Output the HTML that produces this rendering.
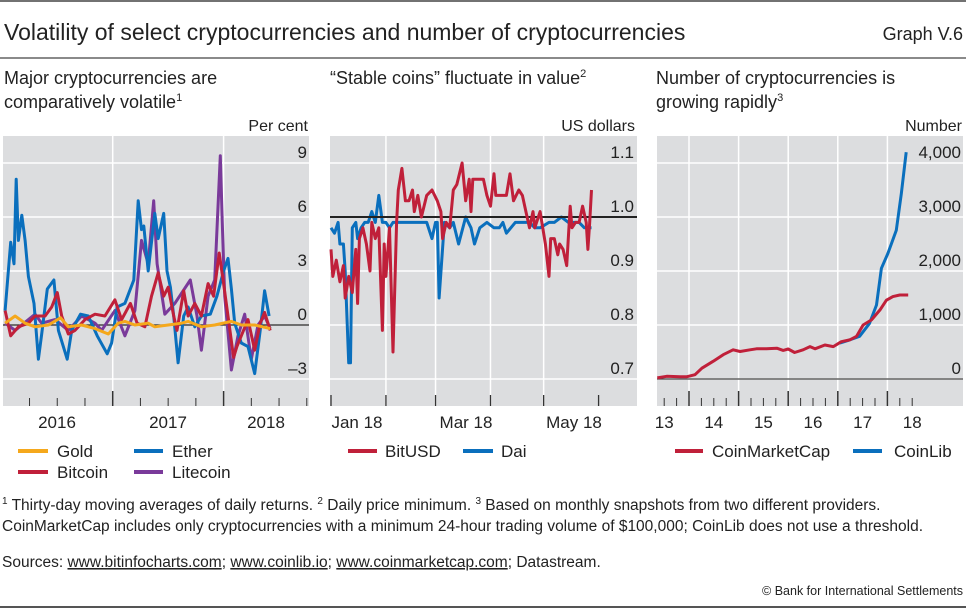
<!DOCTYPE html>
<html><head><meta charset="utf-8"><style>
html,body{margin:0;padding:0;background:#fff;}
svg{display:block;font-family:"Liberation Sans Narrow","Liberation Sans",sans-serif;}
text{fill:#222;}
</style></head><body>
<svg id="chart" width="966" height="609" viewBox="0 0 966 609" xmlns="http://www.w3.org/2000/svg">
<line x1="0" y1="1" x2="966" y2="1" stroke="#444" stroke-width="1.5"/>
<text x="4" y="40" font-size="23">Volatility of select cryptocurrencies and number of cryptocurrencies</text>
<text x="963" y="40" font-size="18" text-anchor="end">Graph V.6</text>
<line x1="0" y1="58" x2="966" y2="58" stroke="#444" stroke-width="1.2"/>
<g font-size="18">
<text x="4" y="84">Major cryptocurrencies are</text>
<text x="4" y="108">comparatively volatile<tspan font-size="11" dy="-7">1</tspan></text>
<text x="330" y="84">“Stable coins” fluctuate in value<tspan font-size="11" dy="-7">2</tspan></text>
<text x="656" y="84">Number of cryptocurrencies is</text>
<text x="656" y="108">growing rapidly<tspan font-size="11" dy="-7">3</tspan></text>
</g>
<g font-size="16" fill="#444">
<text x="308" y="131" text-anchor="end">Per cent</text>
<text x="635" y="131" text-anchor="end">US dollars</text>
<text x="962" y="131" text-anchor="end">Number</text>
</g>
<g id="p1"></g>
<g id="p2"></g>
<g id="p3"></g>
<g font-size="17">
<line x1="18" y1="451" x2="48" y2="451" stroke="#f5a81c" stroke-width="4"/>
<text x="57" y="457">Gold</text>
<line x1="134" y1="451" x2="163" y2="451" stroke="#0a6fbd" stroke-width="4"/>
<text x="172" y="457">Ether</text>
<line x1="18" y1="472" x2="48" y2="472" stroke="#c0203a" stroke-width="4"/>
<text x="57" y="478">Bitcoin</text>
<line x1="134" y1="472" x2="163" y2="472" stroke="#7a3a9a" stroke-width="4"/>
<text x="172" y="478">Litecoin</text>
<line x1="348" y1="451" x2="377" y2="451" stroke="#c0203a" stroke-width="4"/>
<text x="385" y="457">BitUSD</text>
<line x1="463" y1="451" x2="493" y2="451" stroke="#0a6fbd" stroke-width="4"/>
<text x="501" y="457">Dai</text>
<line x1="675" y1="451" x2="703" y2="451" stroke="#c0203a" stroke-width="4"/>
<text x="712" y="457">CoinMarketCap</text>
<line x1="853" y1="451" x2="882" y2="451" stroke="#0a6fbd" stroke-width="4"/>
<text x="894" y="457">CoinLib</text>
</g>
<g font-size="15.5">
<text x="2" y="510"><tspan font-size="10" dy="-6">1</tspan><tspan dy="6"> Thirty-day moving averages of daily returns.  </tspan><tspan font-size="10" dy="-6">2</tspan><tspan dy="6"> Daily price minimum.  </tspan><tspan font-size="10" dy="-6">3</tspan><tspan dy="6"> Based on monthly snapshots from two different providers.</tspan></text>
<text x="2" y="531">CoinMarketCap includes only cryptocurrencies with a minimum 24-hour trading volume of $100,000; CoinLib does not use a threshold.</text>
<text x="2" y="567">Sources: <tspan text-decoration="underline">www.bitinfocharts.com</tspan>; <tspan text-decoration="underline">www.coinlib.io</tspan>; <tspan text-decoration="underline">www.coinmarketcap.com</tspan>; Datastream.</text>
<text x="963" y="595" font-size="12.5" text-anchor="end">© Bank for International Settlements</text>
</g>
<line x1="0" y1="607" x2="966" y2="607" stroke="#555" stroke-width="2"/>
</svg>
<script>
// ---- Panel 1 data (per cent) ----
const etherX=[2016.03,2016.08,2016.11,2016.13,2016.15,2016.18,2016.21,2016.24,2016.29,2016.33,2016.36,2016.41,2016.47,2016.51,2016.59,2016.63,2016.71,2016.78,2016.86,2016.95,2016.99,2017.04,2017.11,2017.19,2017.23,2017.26,2017.28,2017.32,2017.38,2017.41,2017.46,2017.49,2017.52,2017.55,2017.59,2017.64,2017.68,2017.74,2017.80,2017.88,2017.94,2018.00,2018.04,2018.07,2018.10,2018.16,2018.22,2018.28,2018.33,2018.37,2018.41];
const etherY=[0.8,4.6,3.4,8.1,4.7,6.1,4.7,2.7,1.2,-1.9,-0.5,2.0,2.5,-0.3,-1.9,-0.3,0.6,0.5,-0.6,-1.6,-1.0,1.0,1.2,2.5,6.9,5.3,5.5,3.0,6.2,4.8,6.2,3.0,2.1,0.5,-2.1,0.5,1.0,-0.1,0.5,0.6,1.6,3.0,3.7,2.0,0.1,-1.0,-1.2,-2.7,-0.3,1.9,0.5];
const bitcoinX=[2016.03,2016.08,2016.15,2016.24,2016.30,2016.39,2016.45,2016.50,2016.54,2016.60,2016.66,2016.75,2016.84,2016.93,2017.02,2017.08,2017.16,2017.22,2017.29,2017.35,2017.41,2017.46,2017.50,2017.55,2017.58,2017.64,2017.68,2017.74,2017.80,2017.86,2017.91,2017.96,2018.00,2018.04,2018.09,2018.12,2018.16,2018.22,2018.28,2018.33,2018.37,2018.42];
const bitcoinY=[0.8,-0.6,-0.1,0.1,0.5,0.5,1.0,1.8,0.5,-0.5,-0.3,0.3,0.6,0.5,1.4,0.3,1.2,0.1,-0.1,1.6,2.9,1.6,2.1,0.5,-0.3,1.9,0.5,1.2,0.5,2.3,1.6,4.0,2.3,0.5,-1.8,-1.2,-0.6,0.3,-1.4,0.1,0.7,-0.3];
const litecoinX=[2016.03,2016.12,2016.30,2016.36,2016.48,2016.60,2016.72,2016.84,2016.90,2017.02,2017.11,2017.20,2017.26,2017.32,2017.37,2017.40,2017.47,2017.56,2017.70,2017.76,2017.80,2017.86,2017.92,2017.97,2017.99,2018.01,2018.07,2018.13,2018.19,2018.25,2018.31,2018.37,2018.42];
const litecoinY=[0.1,-0.3,0.6,0.1,0.3,-0.3,0.5,0.1,-0.3,0.8,-0.6,0.8,4.7,3.4,6.9,3.4,0.6,1.2,2.5,0.5,-1.4,1.6,2.5,9.4,5.3,1.6,-2.5,-0.6,0.6,-1.9,0,0.5,-0.2];
const goldX=[2016.03,2016.12,2016.21,2016.30,2016.42,2016.53,2016.60,2016.72,2016.84,2016.96,2017.05,2017.11,2017.20,2017.32,2017.38,2017.50,2017.62,2017.68,2017.80,2017.92,2018.07,2018.16,2018.28,2018.42];
const goldY=[0.1,0.5,0.1,-0.1,0,0.4,-0.1,0,-0.2,-0.5,0.1,0.2,0,0.1,-0.1,0,0.1,0.2,-0.1,0,0.2,0,0,-0.2];
const p1Ticks=[-3,0,3,6,9];
const p1TickLabels=["–3","0","3","6","9"];
const p1Years=["2016","2017","2018"];
// ---- Panel 2 data (US dollars), x = days since 1 Jan 2018 ----
const bitusdX=[0,1,3,5,7,8,10,12,13,14,15,16,18,20,22,23,25,27,29,30,31,33,35,37,38,40,42,44,46,47,49,51,54,57,60,62,63,65,67,69,71,74,76,78,79,80,83,86,88,90,92,93,96,99,101,103,106,108,110,112,114,115,118,121,123,124,126,128,129,131,133,135,136,138,140,142,144,145,146,147];
const bitusdY=[0.94,0.89,0.92,0.88,0.91,0.85,0.89,0.86,0.90,0.94,0.84,0.96,0.98,0.95,0.90,0.99,0.96,0.98,0.79,0.95,0.89,0.98,0.75,0.99,1.05,1.09,1.03,1.03,1.05,1.01,1.04,1.00,1.04,1.05,1.03,1.01,0.96,0.99,0.98,1.05,1.06,1.10,1.03,1.07,1.01,1.07,1.07,1.07,1.04,1.02,1.08,1.04,1.04,1.04,1.08,1.03,1.05,1.04,1.01,0.98,1.01,0.98,1.01,0.95,0.89,0.96,0.96,0.93,0.95,0.94,0.91,1.02,0.98,0.99,0.99,1.02,0.99,0.94,0.99,1.05];
const daiX=[0,2,4,5,7,8,10,11,12,14,15,17,19,21,23,25,27,29,31,33,35,38,42,46,50,54,57,59,60,61,64,67,69,72,76,79,81,84,88,92,95,97,99,104,108,112,115,118,123,126,130,134,137,140,143,147];
const daiY=[0.98,0.97,0.99,0.95,0.95,0.90,0.73,0.73,0.98,0.99,0.96,0.98,0.99,0.99,1.01,0.99,1.04,0.99,0.99,0.98,0.99,0.99,0.99,0.99,0.99,0.99,0.96,0.99,0.99,0.85,0.99,0.98,0.99,0.95,1.00,0.98,0.95,0.98,0.99,0.98,0.98,0.99,0.97,0.99,0.99,0.99,0.98,0.98,0.99,0.99,1.00,0.99,0.99,0.99,0.98,0.98];
const p2Ticks=[0.7,0.8,0.9,1.0,1.1];
const p2TickLabels=["0.7","0.8","0.9","1.0","1.1"];
const p2Months=["Jan 18","Mar 18","May 18"];
// ---- Panel 3 data (number) ----
const cmcX=[2013.36,2013.55,2013.82,2013.95,2014.12,2014.26,2014.49,2014.69,2014.89,2015.03,2015.23,2015.36,2015.56,2015.77,2015.90,2016.00,2016.13,2016.30,2016.44,2016.54,2016.74,2016.91,2017.07,2017.24,2017.38,2017.51,2017.68,2017.85,2017.98,2018.11,2018.25,2018.42];
const cmcY=[20,50,40,40,80,200,330,450,540,510,540,560,560,570,530,555,490,540,600,560,630,600,690,725,790,1000,1095,1280,1460,1525,1555,1555];
const coinlibX=[2017.04,2017.24,2017.44,2017.64,2017.78,2017.88,2018.01,2018.18,2018.28,2018.38];
const coinlibY=[665,725,790,1030,1370,2050,2325,2755,3430,4200];
const p3Ticks=[0,1000,2000,3000,4000];
const p3TickLabels=["0","1,000","2,000","3,000","4,000"];
const p3Years=["13","14","15","16","17","18"];

const NS="http://www.w3.org/2000/svg";
function mk(parent,tag,attrs){const e=document.createElementNS(NS,tag);for(const k in attrs)e.setAttribute(k,attrs[k]);parent.appendChild(e);return e;}
const TOP=136,BOT=406;

function frame(g,x0,x1){
  const r=mk(g,'rect',{x:x0,y:TOP,width:x1-x0,height:BOT-TOP,fill:'#dcdddf'});
  
  
}
function hgrid(g,x0,x1,ticks,labels,yf,labelX){
  ticks.forEach((t,i)=>{
    const y=yf(t);
    const l=mk(g,'line',{x1:x0,x2:x1,y1:y,y2:y,stroke:'#fff','stroke-width':1.5});
    
    
    const tx=mk(g,'text',{x:labelX,y:y-5,'font-size':17,'text-anchor':'end'});
    tx.textContent=labels[i];
    
    
  });
}
function vline(g,x,y0,y1,color,w,name){
  const l=mk(g,'line',{x1:x,x2:x,y1:y0,y2:y1,stroke:color,'stroke-width':w});
  
  
}
function series(g,xs,ys,xf,yf,color,name,w){
  const d=xs.map((x,i)=>(i?'L':'M')+xf(x).toFixed(1)+','+yf(ys[i]).toFixed(1)).join('');
  const p=mk(g,'path',{d:d,fill:'none',stroke:color,'stroke-width':w||3,'stroke-linejoin':'round'});
  
  
}
function xlabel(g,x,txt){
  const t=mk(g,'text',{x:x,y:428,'font-size':17,'text-anchor':'middle'});
  t.textContent=txt;
  
  
}

// Panel 1
(function(){
  const g=document.getElementById('p1');
  const xf=d=>112.7+(d-2017)*110.9, yf=v=>325-v*18;
  frame(g,3,309);
  hgrid(g,3,309,p1Ticks,p1TickLabels,yf,307);
  [2017,2018].forEach(y=>vline(g,xf(y),TOP,BOT,'#fff',1.5,'vertical-gridline'));
  for(let q=2016.25;q<2018.8;q+=0.25){const major=Math.abs(q-Math.round(q))<0.01;vline(g,xf(q),major?391:398,BOT,'#333',major?1.5:1,'x-tick');}
  const z=mk(g,'line',{x1:3,x2:309,y1:yf(0),y2:yf(0),stroke:'#222','stroke-width':1.3});
  
  series(g,litecoinX,litecoinY,xf,yf,'#7a3a9a','litecoin-line');
  series(g,etherX,etherY,xf,yf,'#0a6fbd','ether-line');
  series(g,bitcoinX,bitcoinY,xf,yf,'#c0203a','bitcoin-line');
  series(g,goldX,goldY,xf,yf,'#f5a81c','gold-line');
  [57,168,266].forEach((x,i)=>xlabel(g,x,p1Years[i]));
})();
// Panel 2
(function(){
  const g=document.getElementById('p2');
  const xf=d=>331+d*1.772, yf=v=>217-(v-1)*540;
  frame(g,330,637);
  hgrid(g,330,637,p2Ticks,p2TickLabels,yf,634);
  [31,59,90,120].forEach(d=>vline(g,xf(d),TOP,BOT,'#fff',1.5,'vertical-gridline'));
  [0,31,59,90,120,151].forEach(d=>vline(g,xf(d),395,BOT,'#333',1.3,'x-tick'));
  series(g,daiX,daiY,xf,yf,'#0a6fbd','dai-line');
  const z=mk(g,'line',{x1:330,x2:637,y1:yf(1),y2:yf(1),stroke:'#222','stroke-width':2});
  
  series(g,bitusdX,bitusdY,xf,yf,'#c0203a','bitusd-line');
  [357,466,574].forEach((x,i)=>xlabel(g,x,p2Months[i]));
})();
// Panel 3
(function(){
  const g=document.getElementById('p3');
  const xf=d=>689+(d-2014)*49.6, yf=v=>379-v*0.054;
  frame(g,657,963);
  hgrid(g,657,963,p3Ticks,p3TickLabels,yf,961);
  [2014,2015,2016,2017,2018].forEach(y=>vline(g,xf(y),TOP,BOT,'#fff',1.5,'vertical-gridline'));
  for(let q=2013.5;q<2018.6;q+=0.25){const major=Math.abs(q-Math.round(q))<0.01;vline(g,xf(q),major?391:398,BOT,'#333',major?1.5:1,'x-tick');}
  const z=mk(g,'line',{x1:657,x2:963,y1:yf(0),y2:yf(0),stroke:'#444','stroke-width':1.3});
  
  series(g,coinlibX,coinlibY,xf,yf,'#0a6fbd','coinlib-line');
  series(g,cmcX,cmcY,xf,yf,'#c0203a','coinmarketcap-line');
  p3Years.forEach((t,i)=>xlabel(g,xf(2013.5+i),t));
})();
</script>
</body></html>
